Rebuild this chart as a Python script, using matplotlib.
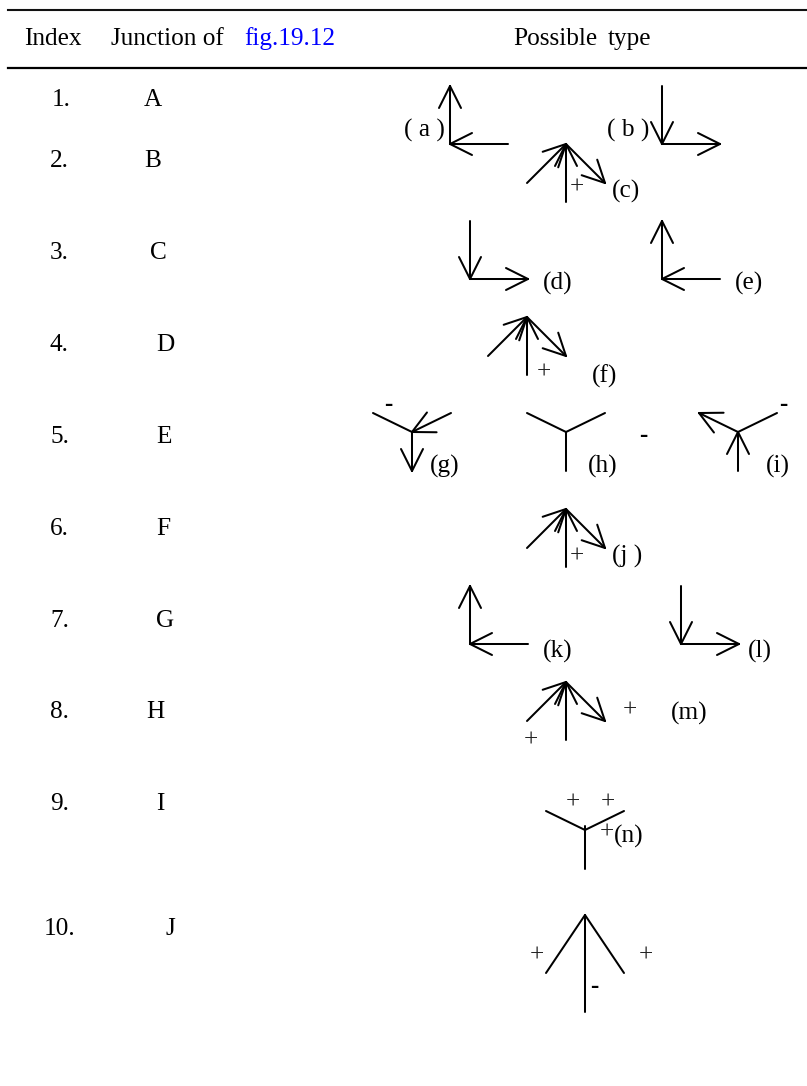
import matplotlib
matplotlib.use('Agg')
import matplotlib.pyplot as plt
import numpy as np

plt.rcParams['font.family'] = ['Liberation Serif', 'DejaVu Serif']

FS = 18.2
LW = 1.45

indexes = ['1.', '2.', '3.', '4.', '5.', '6.', '7.', '8.', '9.', '10.']
index_x = [52, 50, 50, 50, 50, 50, 50, 50, 50, 44]
index_y = [106, 167, 259, 351, 443, 535, 627, 718, 810, 935]
junctions = ['A', 'B', 'C', 'D', 'E', 'F', 'G', 'H', 'I', 'J']
junction_x = [144, 144, 150, 156, 156, 156, 156, 146, 156, 165]

# legs of each junction shape: dx, dy from the vertex, where the arrow head goes
elbow_in = [(0, -58, 'tip'), (58, 0, 'vertex')]
elbow_out = [(0, -58, 'vertex'), (58, 0, 'tip')]
fork = [(-39, 39, 'vertex'), (0, 58, 'vertex'), (39, 39, 'tip')]
y_plain = [(-39, -19, ''), (39, -19, ''), (0, 39, '')]
y_g = [(-39, -19, ''), (39, -19, 'vertex'), (0, 39, 'tip')]
y_i = [(-39, -19, 'tip'), (39, -19, ''), (0, 39, 'vertex')]
y_n = [(-39, -19, ''), (39, -19, ''), (0, 39, ''), (0, -4, '')]
arrow_j = [(-39, 58, ''), (39, 58, ''), (0, 97, '')]

# shape, vertex x, vertex y
diagrams = [
    (elbow_in, 450, 144), (elbow_out, 662, 144), (fork, 566, 144),
    (elbow_out, 470, 279), (elbow_in, 662, 279), (fork, 527, 317),
    (y_g, 412, 432), (y_plain, 566, 432), (y_i, 738, 432),
    (fork, 566, 509), (elbow_in, 470, 644), (elbow_out, 681, 644),
    (fork, 566, 682), (y_n, 585, 830), (arrow_j, 585, 915),
]

type_labels = ['( a )', '( b )', '(c)', '(d)', '(e)', '(f)', '(g)', '(h)', '(i)',
               '(j )', '(k)', '(l)', '(m)', '(n)']
type_x = [404, 607, 612, 543, 735, 592, 430, 588, 766, 612, 543, 748, 671, 614]
type_y = [137, 137, 198, 290, 290, 383, 473, 473, 473, 563, 658, 658, 720, 843]

plus_x = [577, 544, 577, 630, 531, 573, 608, 607, 537, 646]
plus_y = [188, 373, 557, 711, 741, 803, 803, 833, 956, 956]
minus_x = [388, 643, 783, 594]
minus_y = [406, 437, 406, 988]


def draw_head(ax, x, y, ux, uy):
    # two barbs going back from (x, y) along the unit vector (ux, uy)
    for sign in (1, -1):
        bx = 22 * ux - sign * 11 * uy
        by = 22 * uy + sign * 11 * ux
        ax.plot([x, x + bx], [y, y + by], color='black', lw=LW, solid_capstyle='round')


def draw_diagram(ax, legs, x0, y0):
    for dx, dy, head in legs:
        ax.plot([x0, x0 + dx], [y0, y0 + dy], color='black', lw=LW, solid_capstyle='round')
        ln = np.hypot(dx, dy)
        ux, uy = dx / ln, dy / ln
        if head == 'vertex':
            draw_head(ax, x0, y0, ux, uy)
        elif head == 'tip':
            draw_head(ax, x0 + dx, y0 + dy, -ux, -uy)


fig = plt.figure(figsize=(8.07, 10.86), dpi=100)
ax = fig.add_axes([0, 0, 1, 1])
ax.set_xlim(0, 807)
ax.set_ylim(1086, 0)
ax.axis('off')

ax.plot([8, 807], [10, 10], color='#111111', lw=1.5)
ax.plot([8, 807], [68, 68], color='black', lw=1.6)

ax.text(24, 45, 'Index', fontsize=FS)
ax.text(111, 45, 'Junction of', fontsize=FS)
ax.text(244, 45, 'fig.19.12', fontsize=FS, color='#0000ff')
ax.text(513, 45, 'Possible', fontsize=FS)
ax.text(608, 45, 'type', fontsize=FS)

for s, x, y in zip(indexes, index_x, index_y):
    ax.text(x, y, s, fontsize=FS)
for s, x, y in zip(junctions, junction_x, index_y):
    ax.text(x, y, s, fontsize=FS)

for legs, x0, y0 in diagrams:
    draw_diagram(ax, legs, x0, y0)

for s, x, y in zip(type_labels, type_x, type_y):
    ax.text(x, y, s, fontsize=FS)
for x, y in zip(plus_x, plus_y):
    ax.text(x, y + 6, '+', fontsize=FS, ha='center', color='#222222')
for x, y in zip(minus_x, minus_y):
    ax.text(x, y + 5, '-', fontsize=FS, ha='center', fontweight='bold')

fig.savefig('out.png', dpi=100)
